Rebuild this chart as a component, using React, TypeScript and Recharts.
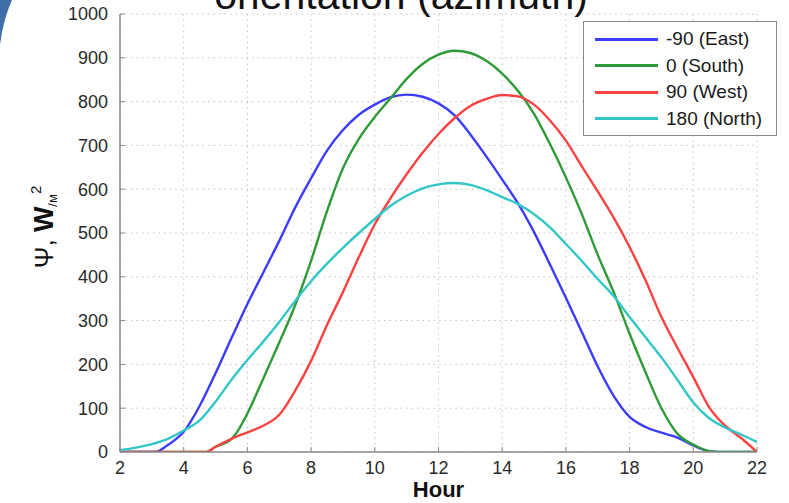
import React from "react";
import { LineChart, Line, XAxis, YAxis, CartesianGrid, Legend } from "recharts";

const FONT = "'Liberation Sans', Arial, Helvetica, sans-serif";
const AXIS_COLOR = "#8a8a8a";
const TEXT_COLOR = "#2a2a2a";

const X_TICKS = [2, 4, 6, 8, 10, 12, 14, 16, 18, 20, 22];
const Y_TICKS = [0, 100, 200, 300, 400, 500, 600, 700, 800, 900, 1000];

// [hour, Ψ W/m²] pairs
const EAST: [number, number][] = [
  [2, 0], [3.1, 0], [3.5, 16], [4, 46], [4.5, 105], [5, 180], [5.5, 260],
  [6, 338], [6.5, 410], [7, 482], [7.5, 558], [8, 625], [8.5, 688], [9, 735],
  [9.5, 770], [10, 793], [10.5, 810], [11, 816], [11.5, 811], [12, 796],
  [12.5, 769], [13, 725], [13.5, 675], [14, 622], [14.5, 567], [15, 502],
  [15.5, 428], [16, 352], [16.5, 274], [17, 195], [17.5, 128], [18, 80],
  [18.5, 57], [19, 44], [19.5, 33], [20, 15], [20.5, 2], [21, 0], [22, 0],
];

const SOUTH: [number, number][] = [
  [2, 0], [4.7, 0], [5, 12], [5.5, 30], [5.6, 38], [6, 88], [6.5, 168],
  [7, 250], [7.5, 335], [8, 437], [8.5, 550], [9, 648], [9.5, 715], [10, 765],
  [10.5, 808], [11, 852], [11.5, 886], [12, 907], [12.5, 916], [13, 911],
  [13.5, 893], [14, 864], [14.5, 824], [15, 772], [15.5, 703], [16, 627],
  [16.5, 543], [17, 450], [17.5, 365], [18, 270], [18.5, 182], [19, 100],
  [19.5, 42], [20, 17], [20.5, 2], [21, 0], [22, 0],
];

const WEST: [number, number][] = [
  [2, 0], [4.7, 0], [5, 12], [5.5, 30], [6, 45], [6.5, 60], [7, 85],
  [7.5, 140], [8, 208], [8.5, 290], [9, 365], [9.5, 445], [10, 520],
  [10.5, 580], [11, 634], [11.5, 683], [12, 726], [12.5, 762], [13, 790],
  [13.5, 806], [14, 815], [14.5, 812], [15, 793], [15.5, 757], [16, 711],
  [16.5, 652], [17, 595], [17.5, 535], [18, 468], [18.5, 392], [19, 308],
  [19.5, 238], [20, 171], [20.5, 102], [21, 60], [21.5, 32], [22, 0],
];

const NORTH: [number, number][] = [
  [2, 4], [2.5, 10], [3, 18], [3.5, 30], [4, 49], [4.5, 72], [5, 115],
  [5.5, 165], [6, 210], [6.5, 252], [7, 297], [7.5, 345], [8, 390], [8.5, 430],
  [9, 466], [9.5, 500], [10, 532], [10.5, 562], [11, 585], [11.5, 602],
  [12, 611], [12.5, 614], [13, 610], [13.5, 598], [14, 582], [14.5, 566],
  [15, 543], [15.5, 513], [16, 475], [16.5, 436], [17, 395], [17.5, 356],
  [18, 308], [18.5, 262], [19, 216], [19.5, 165], [20, 113], [20.5, 77],
  [21, 56], [21.5, 40], [22, 23],
];

const SERIES = [
  { name: "-90 (East)", color: "#3c3cfb", points: EAST },
  { name: "0 (South)", color: "#2f9a38", points: SOUTH },
  { name: "90 (West)", color: "#fb4242", points: WEST },
  { name: "180 (North)", color: "#33c6c6", points: NORTH },
];

const toRows = (pts: [number, number][]) => pts.map(([h, v]) => ({ h, v }));

const tickStyle = { fill: TEXT_COLOR, fontSize: 18, fontFamily: FONT };
const blank = () => "";

function YLabel({ viewBox }: any) {
  const cx = viewBox.x + 53;
  const cy = viewBox.y + viewBox.height / 2 - 6;
  return (
    <text
      x={cx}
      y={cy}
      transform={`rotate(-90, ${cx}, ${cy})`}
      textAnchor="middle"
      fill="#111"
      fontFamily={FONT}
    >
      <tspan fontSize={26}>Ψ, </tspan>
      <tspan fontSize={27} fontWeight="bold">W</tspan>
      <tspan fontSize={13} dy={4}>/м</tspan>
      <tspan fontSize={15} dy={-16}>2</tspan>
    </text>
  );
}

function XLabel({ viewBox }: any) {
  return (
    <text
      x={viewBox.x + viewBox.width / 2}
      y={viewBox.y + 45}
      textAnchor="middle"
      fill="#111"
      fontFamily={FONT}
      fontSize={22}
      fontWeight="bold"
    >
      Hour
    </text>
  );
}

// legend keeps the plotting order (recharts would sort it by name)
function LegendBox() {
  return (
    <div
      style={{
        border: `1px solid ${AXIS_COLOR}`,
        background: "#fff",
        padding: "4px 0 3px 11px",
        fontFamily: FONT,
        fontSize: 19,
        color: "#1a1a1a",
      }}
    >
      {SERIES.map((s) => (
        <div key={s.name} style={{ display: "flex", alignItems: "center", height: 26.5 }}>
          <span
            style={{
              display: "inline-block",
              width: 63,
              height: 3,
              background: s.color,
              marginRight: 8,
            }}
          />
          {s.name}
        </div>
      ))}
    </div>
  );
}

export default function App() {
  return (
    <div
      style={{
        position: "absolute",
        left: 0,
        top: 0,
        width: 789,
        height: 503,
        background: "#fff",
        overflow: "hidden",
      }}
    >
      <LineChart width={789} height={503} margin={{ top: 14, right: 32, bottom: 0, left: 0 }}>
        <CartesianGrid stroke="#c2c2c2" strokeDasharray="1.5 4" />

        <XAxis
          dataKey="h"
          type="number"
          domain={[2, 22]}
          ticks={X_TICKS}
          allowDataOverflow
          height={51}
          tickSize={-5}
          tickMargin={14}
          tick={tickStyle}
          axisLine={{ stroke: AXIS_COLOR, strokeWidth: 1.5 }}
          tickLine={{ stroke: AXIS_COLOR }}
          label={<XLabel />}
        />
        <XAxis
          xAxisId="top"
          orientation="top"
          type="number"
          domain={[2, 22]}
          ticks={X_TICKS}
          allowDataOverflow
          height={0}
          tickSize={-5}
          tickFormatter={blank}
          axisLine={{ stroke: AXIS_COLOR, strokeWidth: 1.5 }}
          tickLine={{ stroke: AXIS_COLOR }}
        />
        <YAxis
          type="number"
          domain={[0, 1000]}
          ticks={Y_TICKS}
          allowDataOverflow
          width={120}
          tickSize={-5}
          tickMargin={17}
          tick={tickStyle}
          axisLine={{ stroke: AXIS_COLOR, strokeWidth: 1.5 }}
          tickLine={{ stroke: AXIS_COLOR }}
          label={<YLabel />}
        />
        <YAxis
          yAxisId="right"
          orientation="right"
          type="number"
          domain={[0, 1000]}
          ticks={Y_TICKS}
          allowDataOverflow
          width={0}
          tickSize={-5}
          tickFormatter={blank}
          axisLine={{ stroke: AXIS_COLOR, strokeWidth: 1.5 }}
          tickLine={{ stroke: AXIS_COLOR }}
        />

        <Legend
          layout="horizontal"
          verticalAlign="middle"
          align="center"
          content={<LegendBox />}
          wrapperStyle={{ top: 21, left: 583, width: 194 }}
        />

        {SERIES.map((s) => (
          <Line
            key={s.name}
            name={s.name}
            data={toRows(s.points)}
            dataKey="v"
            type="monotone"
            stroke={s.color}
            strokeWidth={2.4}
            dot={false}
            activeDot={false}
            isAnimationActive={false}
          />
        ))}
      </LineChart>

      <svg
        width={789}
        height={503}
        style={{ position: "absolute", left: 0, top: 0, pointerEvents: "none" }}
      >
        <path d="M0,0 L12,0 Q3,20 0,45 Z" fill="#3d70a8" />
        <text x={401} y={9} textAnchor="middle" fontFamily={FONT} fontSize={41} fill="#111">
          orientation (azimuth)
        </text>
      </svg>
    </div>
  );
}
